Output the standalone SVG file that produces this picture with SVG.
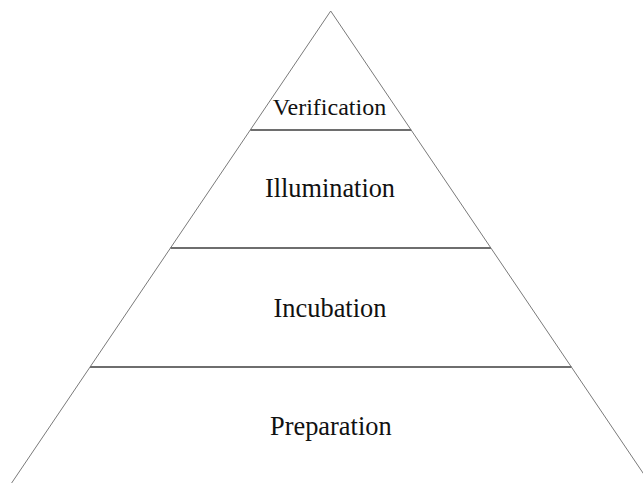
<svg xmlns="http://www.w3.org/2000/svg" width="643" height="483" viewBox="0 0 643 483">
<style>
.edge{fill:#ffffff;stroke:#7a7a7a;stroke-width:1}
.sep{stroke:#6e6e6e;stroke-width:1.8;fill:none}
.lbl{font-family:"Liberation Serif","Times New Roman",serif;fill:#111;text-anchor:middle}
</style>
<rect width="643" height="483" fill="#ffffff"/>
<g id="pyramid">
<polygon class="edge" points="330.7,11 6.9,490 654.5,490"/>
</g>
<g id="separators">
<line class="sep" x1="250.3" y1="130" x2="411.1" y2="130"/>
<line class="sep" x1="170.5" y1="248" x2="490.9" y2="248"/>
<line class="sep" x1="90" y1="367" x2="571.4" y2="367"/>
</g>
<g id="verification"><text class="lbl" x="329.5" y="115" font-size="24">Verification</text></g>
<g id="illumination"><text class="lbl" x="330" y="196.7" font-size="26.3">Illumination</text></g>
<g id="incubation"><text class="lbl" x="330" y="316.7" font-size="26.4">Incubation</text></g>
<g id="preparation"><text class="lbl" x="330.8" y="435" font-size="26.4">Preparation</text></g>
</svg>
